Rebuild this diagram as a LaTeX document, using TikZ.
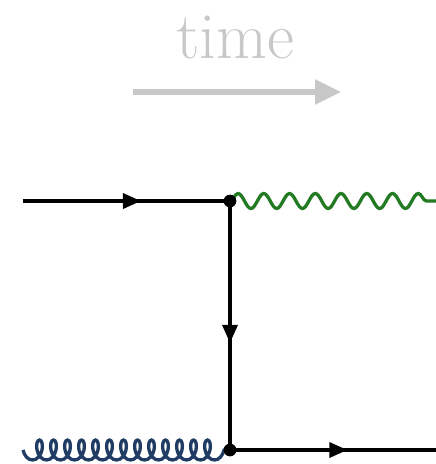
\documentclass[tikz,border=0pt]{standalone}
\usetikzlibrary{decorations.pathmorphing,decorations.markings,arrows.meta}
\definecolor{timegray}{RGB}{200,200,200}
\definecolor{photongreen}{RGB}{34,122,34}
\definecolor{gluonblue}{RGB}{32,60,100}
\tikzset{
  fermion/.style={line width=3.3pt,postaction={decorate},
    decoration={markings,mark=at position 0.57 with {\arrow{Triangle[length=18pt,width=15pt]}}}},
  photon/.style={line width=3.3pt,photongreen,decorate,
    decoration={snake,segment length=25.75pt,amplitude=7.5pt}},
  gluon/.style={line width=3.3pt,gluonblue,decorate,
    decoration={coil,aspect=0.6,segment length=14pt,amplitude=10pt,mirror}},
  vertexdot/.style={circle,fill=black,inner sep=0pt,minimum size=12.5pt},
}
\begin{document}
\begin{tikzpicture}[x=1pt,y=-1pt]
\useasboundingbox (0,0) rectangle (436,464);
% time axis
\node[timegray,font=\fontsize{66}{70}\selectfont,anchor=base] (timelabel) at (235,58) {time};
\coordinate (tstart) at (133,92);
\coordinate (tend) at (341,92);
\draw[timegray,line width=5.5pt,-{Triangle[length=26pt,width=24pt]}] (tstart) -- (tend);
% external points and vertices
\coordinate (inq) at (23,201);
\coordinate (ing) at (23,450);
\coordinate (outph) at (436,201);
\coordinate (outq) at (436,450);
\node[vertexdot] (v1) at (230,201) {};
\node[vertexdot] (v2) at (230,450) {};
% propagators
\draw[fermion] (inq) -- (v1.center);
\draw[fermion] (v1.center) -- (v2.center);
\draw[fermion] (v2.center) -- (outq);
\draw[photon] (v1.center) -- (outph);
\draw[gluon] (ing) -- (v2.center);
\node[vertexdot] at (v1) {};
\node[vertexdot] at (v2) {};
\end{tikzpicture}
\end{document}
